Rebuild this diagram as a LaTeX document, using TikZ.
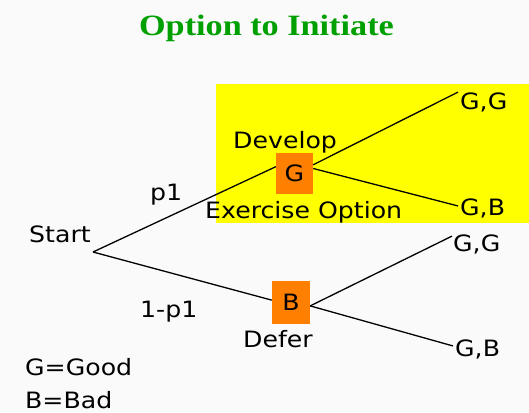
\documentclass[tikz,border=0pt]{standalone}
\usepackage{fontspec}
\newfontfamily\titlefont[FakeStretch=1.16]{Liberation Serif}
\newfontfamily\labelfont[FakeStretch=1.12]{DejaVu Sans}
\definecolor{paper}{RGB}{250,250,250}
\definecolor{panel}{RGB}{255,255,0}
\definecolor{boxorange}{RGB}{255,127,0}
\definecolor{titlegreen}{RGB}{0,160,0}
\tikzset{
  heading/.style={font=\titlefont\bfseries\fontsize{29.5}{34}\selectfont, text=titlegreen, inner sep=0pt, anchor=base},
  lbl/.style={font=\labelfont\fontsize{22.5}{27}\selectfont, inner sep=0pt, anchor=base west},
  statebox/.style={fill=boxorange, inner sep=0pt, minimum width=37pt, minimum height=41pt,
                   font=\labelfont\fontsize{22.5}{27}\selectfont},
  branch/.style={line width=1.3pt, black}
}
\begin{document}
\begin{tikzpicture}[x=1pt,y=-1pt]
  % canvas and highlighted region
  \fill[paper] (0,0) rectangle (529,412);
  \useasboundingbox (0,0) rectangle (529,412);
  \fill[panel] (216,84) rectangle (529,223);

  % heading
  \node[heading] (title) at (266.5,35) {Option to Initiate};

  % decision points
  \coordinate (root) at (93,252);
  \node[statebox] (g) at (294.5,173.5) {G};
  \node[statebox, minimum width=38pt, minimum height=43pt] (b) at (291,302.5) {B};

  % labels
  \node[lbl] (start)   at (29,242)  {Start};
  \node[lbl] (p)       at (150,200) {p1};
  \node[lbl] (q)       at (140,317) {1-p1};
  \node[lbl] (develop) at (233,148) {Develop};
  \node[lbl] (exer)    at (205,218) {Exercise Option};
  \node[lbl] (defer)   at (243,347) {Defer};
  \node[lbl] (gg1)     at (460,109) {G,G};
  \node[lbl] (gb1)     at (460,215) {G,B};
  \node[lbl] (gg2)     at (453,251) {G,G};
  \node[lbl] (gb2)     at (455,356) {G,B};
  \node[lbl] (keyg)    at (25,375)  {G=Good};
  \node[lbl] (keyb)    at (25,408)  {B=Bad};

  % branches
  \draw[branch] (root) -- (g.160);
  \draw[branch] (root) -- (b.173);
  \draw[branch] (g.25) -- ([xshift=-2pt]gg1.north west);
  \draw[branch] (g.15) -- ([xshift=-2pt,yshift=2pt]gb1.west);
  \draw[branch] (b.-10) -- ([xshift=-1pt,yshift=-2pt]gg2.north west);
  \draw[branch] (b.-10) -- ([xshift=-2pt,yshift=3pt]gb2.west);
\end{tikzpicture}
\end{document}
